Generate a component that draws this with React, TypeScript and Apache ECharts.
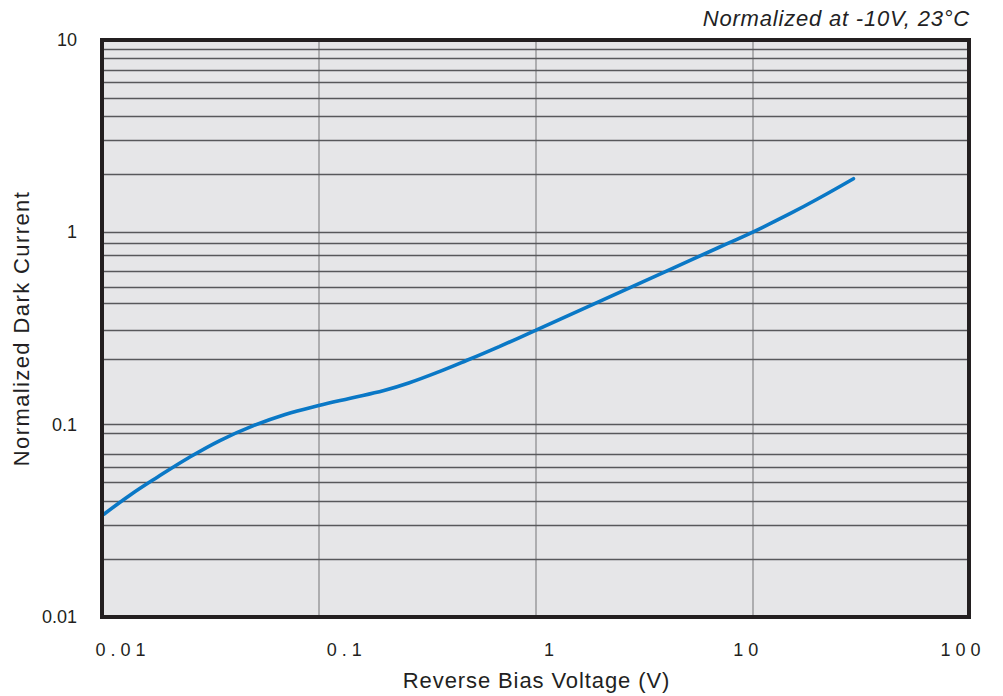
import React, { useEffect, useRef } from "react";
import * as echarts from "echarts";

// Reverse bias voltage (V) and dark current normalized to its value at 10 V
const VOLTAGE = [
  0.0102, 0.0135, 0.018, 0.025, 0.035, 0.05, 0.07, 0.1, 0.14, 0.2, 0.26, 0.36, 0.48, 0.68,
  1, 2, 4, 7, 10, 15, 20, 29.3,
];
const DARK_CURRENT = [
  0.0342, 0.0431, 0.0533, 0.0671, 0.0827, 0.0988, 0.113, 0.1258, 0.1373, 0.1506, 0.1647,
  0.1888, 0.2156, 0.2548, 0.309, 0.44, 0.627, 0.834, 1.0, 1.254, 1.49, 1.9,
];

const X_TICKS = [0.01, 0.1, 1, 10, 100];
const X_TICK_LABELS = ["0.01", "0.1", "1", "10", "100"];
const Y_TICK_LABELS = ["0.01", "0.1", "1", "10"];

// Ruled lines of the log paper
const X_DECADE_LINES = [0.1, 1, 10];
const Y_DECADE_LINES = [1, 0.1];
const Y_MINOR_LINES = [
  9, 8, 7, 6, 5, 4, 3, 2,
  0.88, 0.76, 0.63, 0.52, 0.43, 0.31, 0.22,
  0.0875, 0.0746, 0.0621, 0.0511, 0.0426, 0.0303, 0.0211,
];

const X_TITLE = "Reverse Bias Voltage (V)";
const Y_TITLE = "Normalized Dark Current";
const NOTE = "Normalized at -10V, 23°C";

const FONT = "'Liberation Sans', Arial, Helvetica, sans-serif";
const INK = "#231f20";
// distinct near-black fills let the stylesheet below track the letters per text group
const INK_TICK = "#231f21";
const INK_XTITLE = "#231f22";
const INK_YTITLE = "#231f23";
const INK_NOTE = "#231f24";

// horizontal offsets of the x tick labels from their decade lines
const X_LABEL_SHIFT = [-6.5, 8, 8.5, -19, -28.5];

export default function App() {
  const ref = useRef<HTMLDivElement>(null);

  useEffect(() => {
    if (!ref.current) return;
    const chart = echarts.init(ref.current, undefined, { renderer: "svg" });

    const hLine = (v: number) => ({
      yAxis: v,
      lineStyle: { color: "#58585b", width: 1.4, type: "solid" },
    });
    const vLine = (v: number) => ({
      xAxis: v,
      lineStyle: { color: "#9a9a9d", width: 1.5, type: "solid" },
    });

    chart.setOption({
      animation: false,
      backgroundColor: "#ffffff",
      grid: {
        left: 102,
        top: 40,
        width: 867,
        height: 577,
        show: true,
        backgroundColor: "#e6e6e8",
        borderWidth: 0,
      },
      xAxis: {
        type: "log",
        logBase: 10,
        min: 0.01,
        max: 100,
        axisLine: { show: false },
        axisTick: { show: false },
        axisLabel: { show: false },
        splitLine: { show: false },
      },
      yAxis: {
        type: "log",
        logBase: 10,
        min: 0.01,
        max: 10,
        axisLine: { show: false },
        axisTick: { show: false },
        splitLine: { show: false },
        axisLabel: {
          margin: 25,
          fontSize: 18,
          color: INK,
          fontFamily: FONT,
          showMinLabel: true,
          showMaxLabel: true,
          formatter: (v: number) => {
            const k = Math.round(Math.log10(v)) + 2;
            return Y_TICK_LABELS[k] ?? "";
          },
        },
      },
      series: [
        {
          type: "line",
          data: [],
          z: 1,
          silent: true,
          markLine: {
            silent: true,
            symbol: ["none", "none"],
            label: { show: false },
            emphasis: { disabled: true },
            animation: false,
            data: [
              ...X_DECADE_LINES.map(vLine),
              ...Y_MINOR_LINES.map(hLine),
              ...Y_DECADE_LINES.map(hLine),
            ],
          },
        },
        {
          type: "line",
          z: 5,
          data: VOLTAGE.map((v, i) => [v, DARK_CURRENT[i]]),
          smooth: 0.4,
          showSymbol: false,
          silent: true,
          lineStyle: { color: "#0a78c6", width: 3.6, cap: "round" },
        },
      ],
    });

    const px = (v: number) => chart.convertToPixel({ xAxisIndex: 0 }, v) as number;
    const py = (v: number) => chart.convertToPixel({ yAxisIndex: 0 }, v) as number;
    const left = px(0.01);
    const right = px(100);
    const top = py(10);
    const bottom = py(0.01);

    const titleStyle = {
      fontSize: 22,
      fontFamily: FONT,
      align: "center",
      verticalAlign: "middle",
    };

    chart.setOption({
      graphic: [
        {
          type: "rect",
          z: 100,
          silent: true,
          shape: { x: left, y: top, width: right - left, height: bottom - top },
          style: { fill: "none", stroke: INK, lineWidth: 4 },
        },
        ...X_TICKS.map((v, i) => ({
          type: "text",
          z: 100,
          x: px(v) + X_LABEL_SHIFT[i],
          y: 650,
          style: {
            text: X_TICK_LABELS[i],
            fill: INK_TICK,
            fontSize: 18,
            fontFamily: FONT,
            align: "left",
            verticalAlign: "middle",
          },
        })),
        {
          type: "text",
          z: 100,
          x: (left + right) / 2 + 1,
          y: 680,
          style: { ...titleStyle, text: X_TITLE, fill: INK_XTITLE },
        },
        {
          type: "text",
          z: 100,
          x: 21.5,
          y: (top + bottom) / 2,
          rotation: Math.PI / 2,
          style: { ...titleStyle, text: Y_TITLE, fill: INK_YTITLE },
        },
        {
          type: "text",
          z: 100,
          x: 970,
          y: 18.5,
          style: {
            text: NOTE,
            fill: INK_NOTE,
            fontSize: 22,
            fontStyle: "italic",
            fontFamily: FONT,
            align: "right",
            verticalAlign: "middle",
          },
        },
      ],
    });

    return () => chart.dispose();
  }, []);

  return (
    <>
      <style>{`
        #dark-current-chart text[fill="${INK_TICK}"] { letter-spacing: 5px; }
        #dark-current-chart text[fill="${INK_XTITLE}"] { letter-spacing: 0.9px; }
        #dark-current-chart text[fill="${INK_YTITLE}"] { letter-spacing: 1.4px; }
        #dark-current-chart text[fill="${INK_NOTE}"] { letter-spacing: 0.8px; }
      `}</style>
      <div
        id="dark-current-chart"
        ref={ref}
        style={{ position: "absolute", left: 0, top: 0, width: 1003, height: 696 }}
      />
    </>
  );
}
